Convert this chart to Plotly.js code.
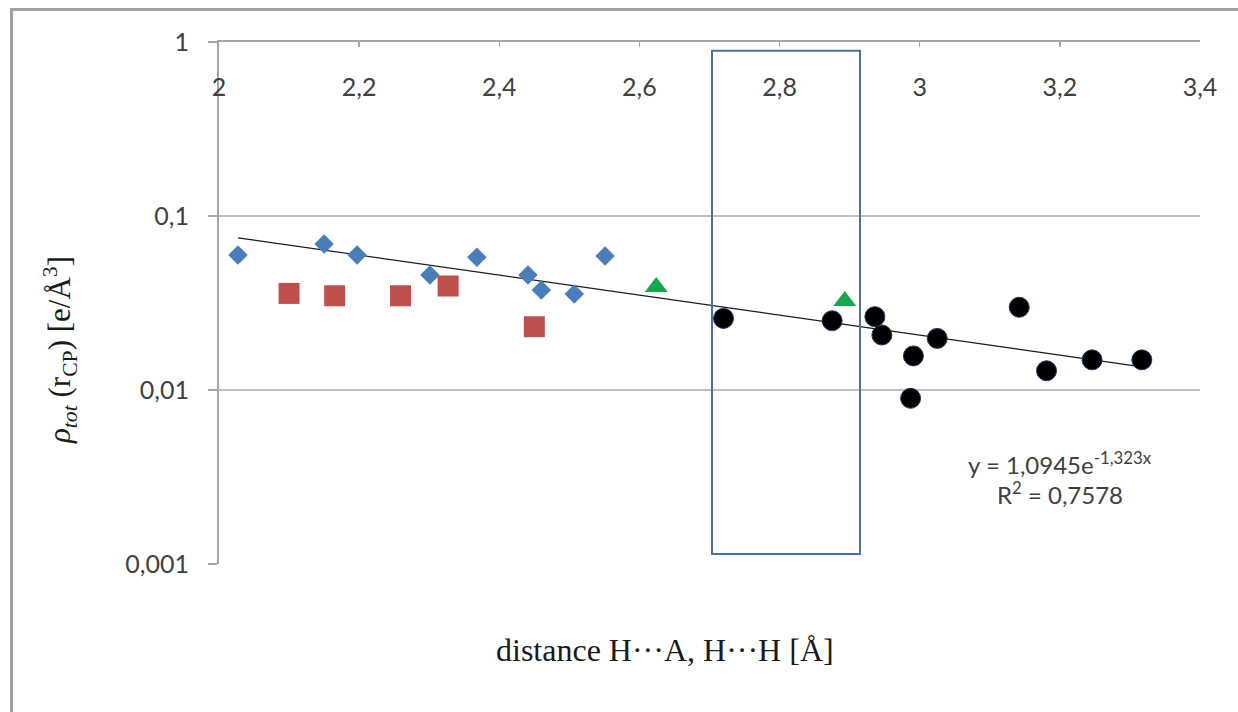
<!DOCTYPE html>
<html>
<head>
<meta charset="utf-8">
<script src="https://cdn.plot.ly/plotly-3.0.1.min.js"></script>
<style>
  html, body { margin: 0; padding: 0; background: #fff; }
  #wrap { position: relative; width: 1238px; height: 712px; overflow: hidden; }
  #frame { position: absolute; left: 10px; top: 8px; width: 1300px; height: 800px;
           border-left: 3px solid #a0a0a0; border-top: 3px solid #a0a0a0; pointer-events: none; }
  #chart { position: absolute; left: 0; top: 0; width: 1238px; height: 712px; }
</style>
</head>
<body>
<div id="wrap">
  <div id="chart"></div>
  <div id="frame"></div>
</div>
<script>
// ---- data ----
const diamondX = [2.027, 2.150, 2.197, 2.301, 2.368, 2.441, 2.460, 2.507, 2.551];
const diamondY = [0.0597, 0.069, 0.0597, 0.0458, 0.058, 0.0458, 0.0376, 0.0356, 0.0589];

const squareX = [2.100, 2.165, 2.259, 2.327, 2.450];
const squareY = [0.0359, 0.0348, 0.0348, 0.0396, 0.0231];

const triangleX = [2.624, 2.893];
const triangleY = [0.0391, 0.0325];

const circleX = [2.720, 2.875, 2.936, 2.946, 2.991, 2.987, 3.025, 3.142, 3.181, 3.246, 3.317];
const circleY = [0.0258, 0.0250, 0.0264, 0.0207, 0.0157, 0.00896, 0.0198, 0.0299, 0.0129, 0.0149, 0.0149];

// exponential trendline shown on the chart: y = 1,0945 e^(-1,323x)
const trendA = 1.0945;
const trendB = -1.323;

const xTickVals = [2, 2.2, 2.4, 2.6, 2.8, 3, 3.2, 3.4];
const xTickText = ['2', '2,2', '2,4', '2,6', '2,8', '3', '3,2', '3,4'];
const yTickVals = [0.001, 0.01, 0.1, 1];
const yTickText = ['0,001', '0,01', '0,1', '1'];

const boxX = [2.7036, 2.9148];

// ---- build ----
const allX = diamondX.concat(squareX, triangleX, circleX);
const xMin = Math.min.apply(null, allX);
const xMax = Math.max.apply(null, allX);
const trendX = [xMin, xMax];
const trendY = trendX.map(x => trendA * Math.exp(trendB * x));

const traces = [
  { x: trendX, y: trendY, mode: 'lines', line: { color: '#1a1a1a', width: 1.2 }, hoverinfo: 'skip' },
  { x: diamondX, y: diamondY, mode: 'markers',
    marker: { symbol: 'diamond', size: 15, color: '#4a7ebb', line: { width: 0 } } },
  { x: squareX, y: squareY, mode: 'markers',
    marker: { symbol: 'square', size: 21, color: '#c0504d', line: { width: 0 } } },
  { x: triangleX, y: triangleY, mode: 'markers',
    marker: { symbol: 'triangle-up', size: 20, color: '#16a84e', line: { width: 0 } } },
  { x: circleX, y: circleY, mode: 'markers',
    marker: { symbol: 'circle', size: 20, color: '#000000', line: { width: 1, color: '#1f3864' } } }
];

const tickFontX = { family: 'Lato, "Open Sans", sans-serif', size: 25, color: '#404040' };
const tickFontY = { family: 'Lato, "Open Sans", sans-serif', size: 25, color: '#404040' };

const layout = {
  width: 1238, height: 712,
  margin: { l: 219, r: 38, t: 42, b: 148, pad: 0 },
  paper_bgcolor: '#ffffff', plot_bgcolor: '#ffffff',
  showlegend: false,
  xaxis: {
    range: [2, 3.4], side: 'top',
    tickvals: xTickVals, ticktext: xTickText,
    ticks: 'inside', ticklen: 5, tickcolor: '#a6a6a6', tickwidth: 1.5,
    ticklabelposition: 'inside', ticklabelstandoff: 33, ticklabeloverflow: 'allow',
    showline: true, linecolor: '#a6a6a6', linewidth: 2,
    showgrid: false, zeroline: false,
    tickfont: tickFontX
  },
  yaxis: {
    type: 'log', range: [-3, 0],
    tickvals: yTickVals, ticktext: yTickText,
    ticks: 'outside', ticklen: 9, tickcolor: '#a6a6a6', tickwidth: 1.5,
    ticklabelstandoff: 14, ticklabeloverflow: 'allow',
    showline: true, linecolor: '#a6a6a6', linewidth: 2,
    showgrid: true, gridcolor: '#bfbfbf', gridwidth: 1.5,
    zeroline: false, tickfont: tickFontY
  },
  shapes: [
    { type: 'rect', xref: 'x', yref: 'paper', x0: boxX[0], x1: boxX[1], y0: 0.0192, y1: 0.9833,
      line: { color: '#4a6fa5', width: 2 }, fillcolor: 'rgba(0,0,0,0)' }
  ],
  annotations: [
    { xref: 'paper', yref: 'paper', x: -0.162, y: 0.41, xanchor: 'center', yanchor: 'middle',
      textangle: -90, showarrow: false,
      text: '<i>ρ<sub>tot</sub></i> (r<sub>CP</sub>) [e/Å<sup>3</sup>]',
      font: { family: '"Liberation Serif", "DejaVu Serif", serif', size: 31, color: '#1a1a1a' } },
    { xref: 'paper', yref: 'paper', x: 0.4546, y: -0.1648, xanchor: 'center', yanchor: 'middle',
      showarrow: false,
      text: 'distance H···A, H···H [Å]',
      font: { family: '"Liberation Serif", "DejaVu Serif", serif', size: 32, color: '#1a1a1a' } },
    { xref: 'paper', yref: 'paper', x: 0.857, y: 0.1935, xanchor: 'center', yanchor: 'middle',
      showarrow: false,
      text: 'y = 1,0945e<sup>-1,323x</sup>',
      font: { family: 'Lato, "Open Sans", sans-serif', size: 24, color: '#404040' } },
    { xref: 'paper', yref: 'paper', x: 0.857, y: 0.1360, xanchor: 'center', yanchor: 'middle',
      showarrow: false,
      text: 'R<sup>2</sup> = 0,7578',
      font: { family: 'Lato, "Open Sans", sans-serif', size: 24, color: '#404040' } }
  ]
};

Plotly.newPlot('chart', traces, layout, { staticPlot: true, displayModeBar: false });
</script>
</body>
</html>
